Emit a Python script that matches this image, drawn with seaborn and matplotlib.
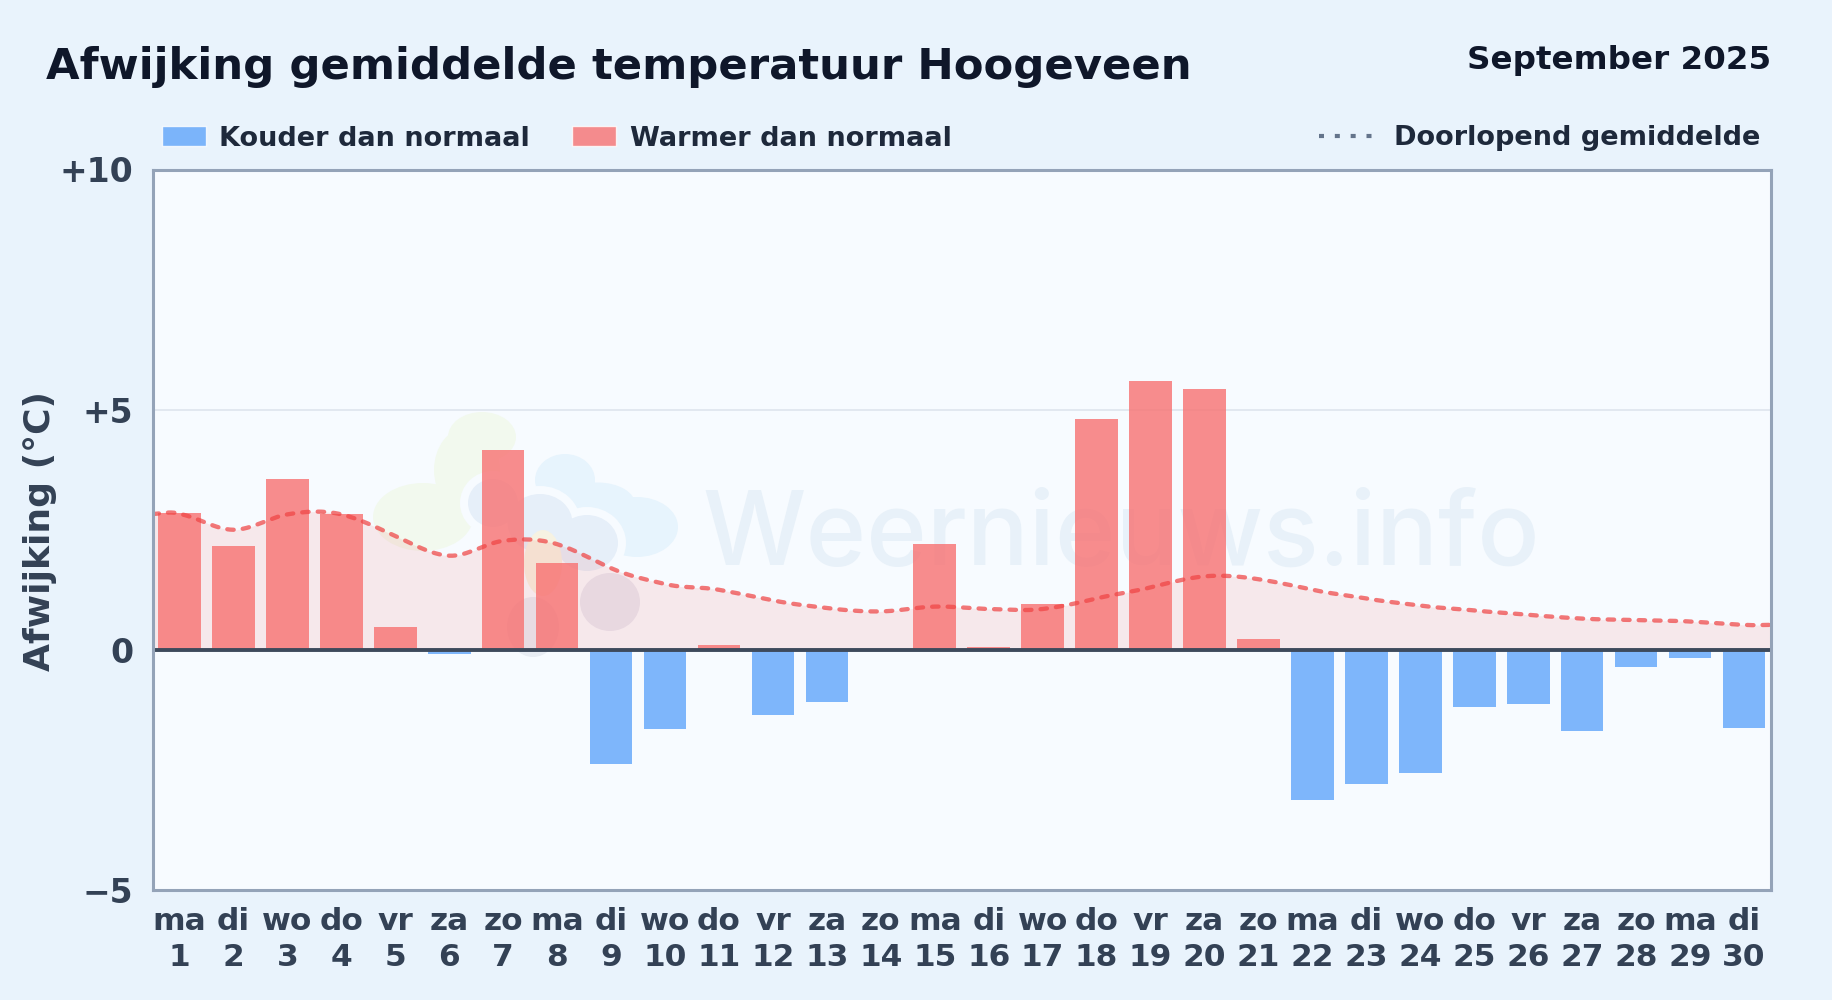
import numpy as np
import pandas as pd
import matplotlib
matplotlib.use("Agg")
import matplotlib.pyplot as plt
from matplotlib.lines import Line2D
from matplotlib.patches import Ellipse, Patch
import seaborn as sns

weekdays = ["ma", "di", "wo", "do", "vr", "za", "zo"] * 4 + ["ma", "di"]
days = list(range(1, 31))
afwijking = [2.84, 2.16, 3.55, 2.82, 0.48, -0.08, 4.15, 1.80, -2.38, -1.65,
             0.10, -1.36, -1.09, 0.02, 2.21, 0.05, 0.95, 4.80, 5.60, 5.42,
             0.22, -3.13, -2.80, -2.57, -1.20, -1.12, -1.68, -0.35, -0.18, -1.62]
doorlopend = [2.83, 2.50, 2.82, 2.82, 2.37, 1.96, 2.27, 2.20, 1.70, 1.37,
              1.25, 1.03, 0.87, 0.80, 0.90, 0.85, 0.85, 1.07, 1.30, 1.53,
              1.47, 1.25, 1.07, 0.92, 0.82, 0.73, 0.65, 0.62, 0.59, 0.52]
y_ticks = [-5, 0, 5, 10]
y_labels = ["\u22125", "0", "+5", "+10"]

BG = "#e9f3fc"
PLOT_BG = "#f7fbff"
W, H = 1832, 1000


def smooth(values, per_seg=16, tension=0.3):
    # curve through the daily values, only for drawing the line
    v = np.array([values[0]] + list(values) + [values[-1]], dtype=float)
    x = np.arange(-1, len(values) + 1, dtype=float)
    x[0], x[-1] = -0.5, len(values) - 0.5
    xs, ys = [], []
    for i in range(len(v) - 1):
        p0, p3 = v[i], v[i + 1]
        m0 = (v[i + 1] - v[max(i - 1, 0)]) * tension
        m1 = (v[min(i + 2, len(v) - 1)] - v[i]) * tension
        t = np.linspace(0, 1, per_seg, endpoint=False)
        b = (1 - t) ** 3 * p0 + 3 * (1 - t) ** 2 * t * (p0 + m0 / 1.5) \
            + 3 * (1 - t) * t ** 2 * (p3 - m1 / 1.5) + t ** 3 * p3
        xs.append(x[i] + t * (x[i + 1] - x[i]))
        ys.append(b)
    xs.append([x[-1]])
    ys.append([v[-1]])
    return np.concatenate(xs), np.concatenate(ys)


def blob_group(ax, parts, color, halo=0):
    # parts are (x, y, w, h) in figure pixels, halo gives the pale ring of the logo
    if halo:
        for px, py, bw, bh in parts:
            ax.add_patch(Ellipse((px / W, 1 - py / H), (bw + halo) / W, (bh + halo) / H,
                                 transform=fig.transFigure, facecolor=PLOT_BG,
                                 edgecolor="none", zorder=0))
    for px, py, bw, bh in parts:
        ax.add_patch(Ellipse((px / W, 1 - py / H), bw / W, bh / H,
                             transform=fig.transFigure, facecolor=color,
                             edgecolor="none", zorder=0))


df = pd.DataFrame({
    "label": [f"{w}\n{d}" for w, d in zip(weekdays, days)],
    "afwijking": afwijking,
})
df["soort"] = np.where(df["afwijking"] < 0, "koud", "warm")

sns.set_theme(style="white")
plt.rcParams["font.family"] = ["DejaVu Sans"]

fig = plt.figure(figsize=(W / 100, H / 100), dpi=100, facecolor=BG)
ax = fig.add_axes([152.5 / W, 1 - 890 / H, (1771 - 152.5) / W, (890 - 169.5) / H])
ax.set_zorder(1)
ax.patch.set_alpha(0)
fig.patches.append(plt.Rectangle((152.5 / W, 1 - 890 / H), (1771 - 152.5) / W, (890 - 169.5) / H,
                                 transform=fig.transFigure, facecolor=PLOT_BG,
                                 edgecolor="none", zorder=-1))

# watermark behind the data
blob_group(ax, [(482, 437, 68, 50), (467, 470, 66, 85), (423, 517, 100, 68)], "#f2f9ee")
blob_group(ax, [(565, 480, 60, 52), (598, 505, 75, 45), (637, 527, 82, 60)], "#e7f4fd")
blob_group(ax, [(493, 503, 50, 48), (540, 523, 65, 58), (587, 543, 62, 56)], "#e6eff9", halo=16)
blob_group(ax, [(543, 563, 38, 66)], "#f6f2e2")
blob_group(ax, [(610, 602, 60, 58)], "#e8e9f2")
blob_group(ax, [(533, 627, 52, 60)], "#e8edf4")
fig.text(702 / W, 1 - 565 / H, "Weernieuws.info", fontsize=74.3, fontfamily="Inter", fontweight="medium",
         color="#e8f1f9", ha="left", va="baseline", zorder=0.5)

sns.barplot(data=df, x="label", y="afwijking", hue="soort", dodge=False, width=0.79,
            palette={"koud": "#60a5fa", "warm": "#f87171"}, alpha=0.8, saturation=1,
            legend=False, linewidth=0, ax=ax, zorder=3)

xs, ys = smooth(doorlopend)
ax.fill_between(xs, 0, ys, color="#ef4444", alpha=0.1, linewidth=0, zorder=2)
sns.lineplot(x=xs, y=ys, color="#ef4444", alpha=0.72, linewidth=3.1, sort=False,
             errorbar=None, ax=ax, zorder=4)
ax.lines[-1].set_linestyle((0, (1.5, 2.1)))
ax.lines[-1].set_dash_capstyle("round")

ax.axhline(0, color="#3d4a5c", linewidth=2.8, zorder=5)
ax.axhline(5, color="#e2e8f0", linewidth=1.4, zorder=1)

ax.set_xlim(-0.5, 29.5)
ax.set_ylim(-5, 10)
ax.set_yticks(y_ticks)
ax.set_yticklabels(y_labels, fontsize=23.8, fontweight="bold", color="#334155")
ax.tick_params(axis="y", length=0, pad=14)
ax.tick_params(axis="x", length=0, pad=12.5)
for lab in ax.get_xticklabels():
    lab.set_fontsize(22.5)
    lab.set_fontweight("bold")
    lab.set_color("#334155")
    lab.set_linespacing(1.27)
ax.set_xlabel("")
ax.set_ylabel("")
fig.text(40 / W, 1 - 531 / H, "Afwijking (\u00b0C)", rotation=90, fontsize=26, fontweight="bold",
         color="#334155", ha="center", va="center")

for s in ax.spines.values():
    s.set_visible(True)
    s.set_color("#94a3b8")
    s.set_linewidth(2.2)
    s.set_zorder(6)

fig.text(46 / W, 1 - 67 / H, "Afwijking gemiddelde temperatuur Hoogeveen", fontsize=31.2, fontweight="bold",
         color="#0f172a", ha="left", va="center")
fig.text(1771 / W, 1 - 61 / H, "September 2025", fontsize=23.4, fontweight="bold",
         color="#0f172a", ha="right", va="center")

left = fig.legend(handles=[Patch(facecolor="#60a5fa", alpha=0.8, label="Kouder dan normaal"),
                           Patch(facecolor="#f87171", alpha=0.8, label="Warmer dan normaal")],
                  loc="center left", bbox_to_anchor=(161.5 / W, 1 - 138.5 / H), frameon=False, ncol=2,
                  prop={"size": 19.5, "weight": "bold"}, labelcolor="#1e293b",
                  handlelength=1.63, handleheight=0.75, handletextpad=0.5, columnspacing=1.55,
                  borderpad=0, borderaxespad=0)
right = fig.legend(handles=[Line2D([0], [0], color="#64748b", linewidth=3,
                                   dash_capstyle="butt", linestyle=(0, (1.2, 2.6)),
                                   label="Doorlopend gemiddelde")],
                   loc="center right", bbox_to_anchor=(1760 / W, 1 - 138 / H), frameon=False,
                   prop={"size": 19.5, "weight": "bold"}, labelcolor="#1e293b",
                   handlelength=1.95, handletextpad=0.8, borderpad=0, borderaxespad=0)

fig.savefig("out.png", dpi=100, facecolor=BG)
